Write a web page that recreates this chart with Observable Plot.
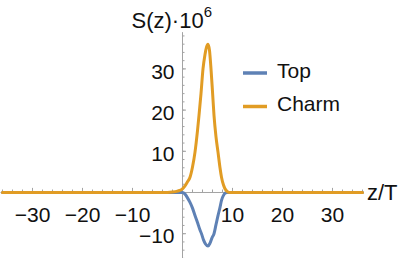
<!DOCTYPE html>
<html>
<head>
<meta charset="utf-8">
<script src="https://cdn.jsdelivr.net/npm/d3@7"></script>
<script src="https://cdn.jsdelivr.net/npm/@observablehq/plot@0.6"></script>
<style>
  html, body { margin: 0; padding: 0; background: #fff; }
  #chart { width: 409px; height: 258px; }
</style>
</head>
<body>
<div id="chart"></div>
<script>
// ---- data ----
const seriesNames = ["Top", "Charm"];
const seriesColors = ["#5E81B5", "#E19C24"];

const topZ = [-36, -3, 0, 0.5, 1, 1.5, 2, 2.5, 3, 3.5, 3.8, 4.2, 4.6, 5.1, 5.5, 5.9, 6.3, 6.7, 7.1, 7.5, 7.8, 8.2, 8.6, 9, 36];
const topS = [0, 0, 0, -0.4, -1.3, -2.4, -3.8, -5.6, -7.3, -9.1, -10, -11.5, -12.5, -13, -12.3, -11, -10, -7.8, -5.6, -3.6, -1.9, -0.7, -0.1, 0, 0];

const charmZ = [-36, -3, -2, -1, 0, 0.5, 1, 1.5, 2, 2.5, 3, 3.3, 3.7, 4.1, 4.5, 4.8, 5.1, 5.4, 5.7, 6, 6.3, 6.7, 7.1, 7.5, 7.8, 8.2, 8.5, 9, 9.5, 36];
const charmS = [0, 0, 0.1, 0.35, 0.9, 1.6, 2.6, 3.7, 6.2, 9.8, 15, 18.7, 24, 30, 33.5, 35.3, 36, 34.5, 30, 24.5, 18.7, 13.5, 9.8, 6, 3.7, 1.8, 0.9, 0.2, 0, 0];

const xMajorTicks = [-30, -20, -10, 10, 20, 30];
const xMinorTicks = d3.range(-36, 37, 2).filter(d => d !== 0);
const yMajorTicks = [-10, 10, 20, 30];
const yMinorTicks = d3.range(-16, 39, 2).filter(d => d !== 0);
const xAxisExtent = [-36.3, 36.3];
const yAxisExtent = [-16.1, 38.8];

const yTitle = "S(z)·10";
const yTitleExp = "6";
const xTitle = "z/T";

// ---- build ----
const topData = topZ.map((z, i) => ({z, s: topS[i]}));
const charmData = charmZ.map((z, i) => ({z, s: charmS[i]}));
const fmt = d => d < 0 ? "\u2212" + Math.abs(d) : String(d);
const axisColor = "#a3a3a3";
const textColor = "#111";
const font = "'Liberation Sans', Arial, Helvetica, sans-serif";

const plot = Plot.plot({
  width: 409,
  height: 258,
  margin: 0,
  style: {fontFamily: font, background: "white", overflow: "visible"},
  x: {domain: [-36.4, 45.4], axis: null},
  y: {domain: [-16.02, 46.6], axis: null},
  marks: [
    // axes lines
    Plot.ruleY([0], {x1: xAxisExtent[0], x2: xAxisExtent[1], stroke: axisColor, strokeWidth: 1}),
    Plot.ruleX([0], {y1: yAxisExtent[0], y2: yAxisExtent[1], stroke: axisColor, strokeWidth: 1}),
    // x ticks (upward)
    Plot.ruleX(xMinorTicks, {x: d => d, y1: 0, y2: 0.6, stroke: axisColor}),
    Plot.ruleX(xMajorTicks, {x: d => d, y1: 0, y2: 1.0, stroke: axisColor}),
    // y ticks (rightward)
    Plot.ruleY(yMinorTicks, {y: d => d, x1: 0, x2: 0.5, stroke: axisColor}),
    Plot.ruleY(yMajorTicks, {y: d => d, x1: 0, x2: 0.8, stroke: axisColor}),
    // tick labels
    Plot.text(xMajorTicks, {x: d => d, y: d => 0, text: fmt, dy: 23, fontSize: 21, fill: textColor, lineAnchor: "middle"}),
    Plot.text(yMajorTicks, {x: d => 0, y: d => d, text: fmt, dx: -8, dy: 3, fontSize: 21, fill: textColor, textAnchor: "end", lineAnchor: "middle"}),
    // curves
    Plot.line(topData, {x: "z", y: "s", stroke: seriesColors[0], strokeWidth: 3, curve: "monotone-x"}),
    Plot.line(charmData, {x: "z", y: "s", stroke: seriesColors[1], strokeWidth: 3, curve: "monotone-x"})
  ]
});
document.getElementById("chart").appendChild(plot);

// ---- annotations: titles and legend ----
const svg = d3.select(plot);
const ann = svg.append("g").attr("text-anchor", "start")
  .attr("font-family", font).attr("fill", textColor);

const t = ann.append("text")
  .attr("x", 131.5).attr("y", 28)
  .attr("font-size", 22)
  .text(yTitle);
t.append("tspan").attr("font-size", 15).attr("dy", -11).text(yTitleExp);

ann.append("text")
  .attr("x", 367).attr("y", 199.5)
  .attr("font-size", 22)
  .text(xTitle);

const legendY = [73, 106.5];
seriesNames.forEach((name, i) => {
  ann.append("line")
    .attr("x1", 243).attr("x2", 267)
    .attr("y1", legendY[i]).attr("y2", legendY[i])
    .attr("stroke", seriesColors[i]).attr("stroke-width", 3.5);
  ann.append("text")
    .attr("x", 277).attr("y", legendY[i] + 4.5)
    .attr("font-size", 21)
    .text(name);
});
</script>
</body>
</html>
